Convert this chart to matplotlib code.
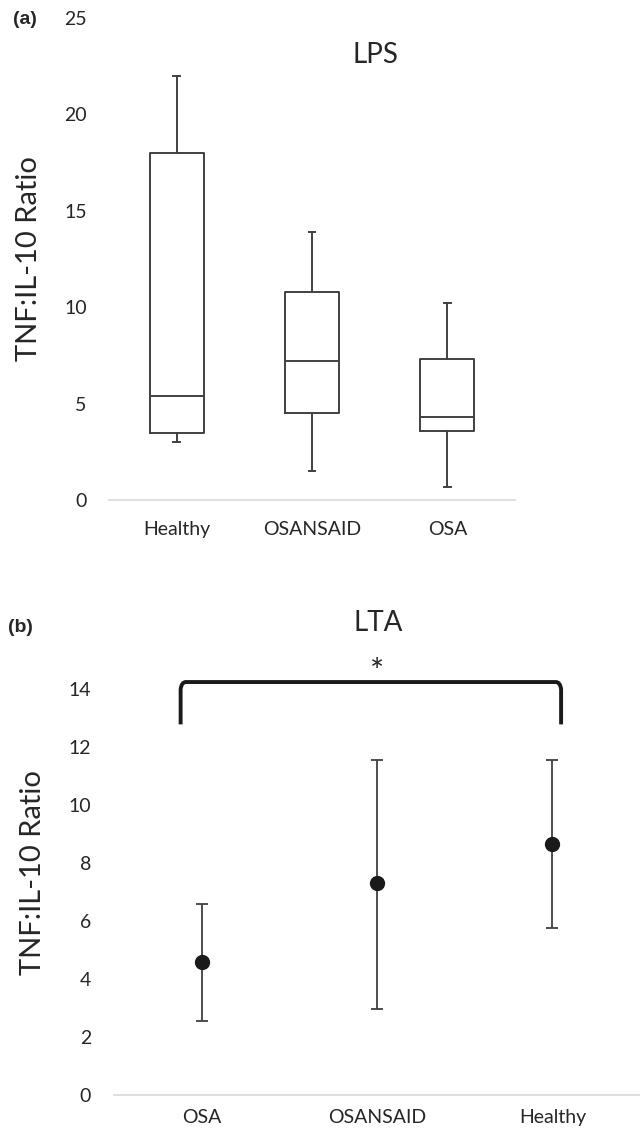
import matplotlib.pyplot as plt
from matplotlib.path import Path
from matplotlib.patches import PathPatch
import numpy as np

plt.rcParams['font.family'] = ['Lato', 'DejaVu Sans']

# ---- panel (a): LPS box plot ----
lps_groups = ["Healthy", "OSANSAID", "OSA"]
lps_whisker_low = [3.0, 1.5, 0.7]
lps_q1 = [3.5, 4.5, 3.6]
lps_median = [5.4, 7.2, 4.3]
lps_q3 = [18.0, 10.8, 7.3]
lps_whisker_high = [22.0, 13.9, 10.2]

# ---- panel (b): LTA mean +/- error ----
lta_groups = ["OSA", "OSANSAID", "Healthy"]
lta_mean = [4.6, 7.3, 8.65]
lta_low = [2.55, 2.95, 5.75]
lta_high = [6.6, 11.55, 11.55]
sig_low, sig_high = 12.78, 14.24

EDGE = '#404040'
TXT = '#262626'

fig = plt.figure(figsize=(6.4, 11.32), dpi=100)


def style_axes(ax, ypad, xpad):
    for s in ['top', 'right', 'left']:
        ax.spines[s].set_visible(False)
    ax.spines['bottom'].set_color('#d9d9d9')
    ax.spines['bottom'].set_linewidth(1.2)
    ax.tick_params(axis='both', length=0, labelsize=14, labelcolor=TXT)
    ax.tick_params(axis='y', pad=ypad)
    ax.tick_params(axis='x', pad=xpad)


# panel a
ax1 = fig.add_axes([109 / 640, 1 - 500 / 1132, 406 / 640, 482 / 1132])
stats = []
for i, g in enumerate(lps_groups):
    stats.append(dict(label=g, whislo=lps_whisker_low[i], q1=lps_q1[i],
                      med=lps_median[i], q3=lps_q3[i],
                      whishi=lps_whisker_high[i], fliers=[]))
ax1.bxp(stats, positions=[1, 2, 3], widths=0.4, showfliers=False,
        boxprops=dict(color=EDGE, linewidth=1.4),
        medianprops=dict(color=EDGE, linewidth=1.4),
        whiskerprops=dict(color=EDGE, linewidth=1.4),
        capprops=dict(color=EDGE, linewidth=1.4), capwidths=0.05)
ax1.set_xlim(0.5, 3.5)
ax1.set_ylim(0, 25)
ax1.set_yticks([0, 5, 10, 15, 20, 25])
style_axes(ax1, 16, 15)
ax1.set_ylabel("TNF:IL-10 Ratio", fontsize=21, color=TXT, labelpad=16)
fig.text(375 / 640, 1 - 55 / 1132, "LPS", ha='center', va='center',
         fontsize=20, color=TXT)

# panel b
ax2 = fig.add_axes([114 / 640, 1 - 1095 / 1132, 526 / 640, 406 / 1132])
x = np.arange(1, len(lta_groups) + 1)
mean = np.array(lta_mean)
err = [mean - np.array(lta_low), np.array(lta_high) - mean]
ax2.errorbar(x, mean, yerr=err, fmt='o', color='#1a1a1a', ecolor=EDGE,
             elinewidth=1.3, capsize=4, capthick=1.3, markersize=10)
ax2.set_xticks(x)
ax2.set_xticklabels(lta_groups)
ax2.set_xlim(0.5, 3.5)
ax2.set_ylim(0, 14)
ax2.set_yticks(np.arange(0, 15, 2))
style_axes(ax2, 16.5, 10)
ax2.set_ylabel("TNF:IL-10 Ratio", fontsize=21, color=TXT, labelpad=16)
ax2.yaxis.set_label_coords(-0.13, 0.547)
fig.text(378 / 640, 1 - 623 / 1132, "LTA", ha='center', va='center',
         fontsize=20, color=TXT)

# significance bracket
xl, xr = x[0] - 0.12, x[-1] + 0.05
r = 0.03
verts = [(xl, sig_low), (xl, sig_high - 0.25), (xl + 0.005, sig_high),
         (xl + r, sig_high), (xr - r, sig_high), (xr - 0.005, sig_high),
         (xr, sig_high - 0.25), (xr, sig_low)]
codes = [Path.MOVETO, Path.LINETO, Path.CURVE3, Path.CURVE3, Path.LINETO,
         Path.CURVE3, Path.CURVE3, Path.LINETO]
ax2.add_patch(PathPatch(Path(verts, codes), fill=False, edgecolor='#1a1a1a',
                        linewidth=2.8, clip_on=False))
ax2.text((x[0] + x[-1]) / 2, sig_high, "*", ha='center',
         va='baseline', fontsize=24, color=TXT, clip_on=False)

fig.text(13 / 640, 1 - 19 / 1132, "(a)", fontsize=14, fontweight='bold',
         family='Liberation Sans', va='center', ha='left', color=TXT)
fig.text(8 / 640, 1 - 627 / 1132, "(b)", fontsize=14, fontweight='bold',
         family='Liberation Sans', va='center', ha='left', color=TXT)

fig.savefig("out.png", dpi=100)
